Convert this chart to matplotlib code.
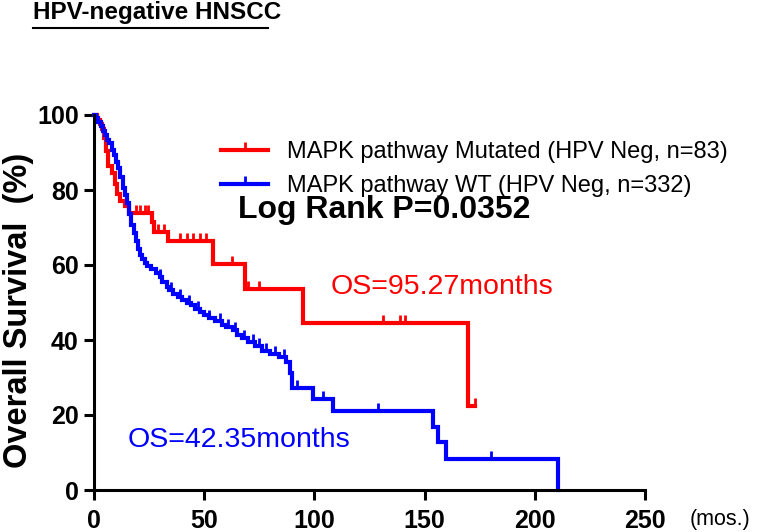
import numpy as np
import matplotlib
matplotlib.use("Agg")
import matplotlib.pyplot as plt
from matplotlib.path import Path
from matplotlib.lines import Line2D
from matplotlib import font_manager

# Kaplan-Meier steps: (time in months, survival % after the drop)
red_times = [0, 1.5, 2.5, 3.5, 4.5, 5.5, 6.5, 8, 9.5, 10.5, 12, 14, 16, 26.3, 27.2, 33.5, 54, 68.5, 95, 169.6, 172.8]
red_surv = [100, 98.8, 97.6, 96.4, 94.0, 90.5, 86.5, 84.5, 81.5, 79.0, 77.0, 75.8, 74.0, 71.5, 68.8, 66.4, 60.3, 53.6, 44.6, 22.4, 22.4]
red_censor = [19, 21, 23, 24.5, 29, 31.7, 39, 42, 45, 48, 51, 62.6, 70, 75, 131, 139, 141, 172.8]

blue_times = [0, 1, 2, 3, 4, 5, 6, 7, 8, 9, 10, 11, 12, 13, 14, 15, 16, 17, 18, 19, 20, 21, 22, 23, 24,
              26, 28, 30, 31, 33, 34, 36, 38, 40, 42, 44, 46, 48, 50, 52, 55, 58, 60, 63, 65, 67, 70,
              73, 76, 80, 84, 87, 89, 90, 99.5, 108.5, 153.7, 156, 159.6, 210.4]
blue_surv = [100, 99.1, 98.2, 97.0, 95.8, 94.6, 93.4, 92.5, 90.8, 89.4, 87.6, 85.8, 83.5, 80.5, 78.6, 76.5,
             73.5, 70.8, 68.6, 66.5, 64.3, 62.8, 61.5, 60.6, 59.8, 58.9, 57.8, 56.8, 55.6, 54.2, 53.3,
             52.3, 51.5, 50.6, 50.0, 49.4, 48.4, 47.5, 46.6, 46.0, 45.2, 44.0, 43.5, 42.8, 41.3, 40.6,
             39.4, 38.3, 37.0, 36.2, 35.4, 34.1, 31.2, 27.2, 24.3, 21.2, 16.8, 12.8, 8.3, 0]
blue_censor = [30, 35, 39, 43, 47, 52, 57, 61, 64, 68, 72, 75, 78, 82, 86, 92, 104, 128.8, 180]

red_label = "MAPK pathway Mutated (HPV Neg, n=83)"
blue_label = "MAPK pathway WT (HPV Neg, n=332)"
x_ticks = [0, 50, 100, 150, 200, 250]
y_ticks = [0, 20, 40, 60, 80, 100]

RED = "#ff0000"
BLUE = "#0000ff"

installed = {f.name for f in font_manager.fontManager.ttflist}
narrow = "Liberation Sans Narrow" if "Liberation Sans Narrow" in installed else "Liberation Sans"
plt.rcParams["font.family"] = ["Liberation Sans", "DejaVu Sans"]


def surv_at(times, surv, t):
    i = np.searchsorted(times, t, side="right") - 1
    return surv[i]


# upward censor tick
tick_marker = Path([(0, 0), (0, 1)], [Path.MOVETO, Path.LINETO])

fig = plt.figure(figsize=(7.72, 5.32), dpi=100)
ax = fig.add_axes([94 / 772, 42 / 532, 551 / 772, 375 / 532])

for times, surv, cens, col in [(red_times, red_surv, red_censor, RED),
                               (blue_times, blue_surv, blue_censor, BLUE)]:
    ax.step(times, surv, where="post", color=col, lw=3, clip_on=False, solid_joinstyle="miter")
    cy = [surv_at(times, surv, t) for t in cens]
    ax.plot(cens, cy, ls="none", marker=tick_marker, markersize=11, markeredgewidth=2,
            color=col, clip_on=False)

ax.set_xlim(0, 250)
ax.set_ylim(0, 100)
ax.set_xticks(x_ticks)
ax.set_yticks(y_ticks)
for s in ["top", "right"]:
    ax.spines[s].set_visible(False)
for s in ["left", "bottom"]:
    ax.spines[s].set_linewidth(2.2)
ax.tick_params(width=2.2, length=7, labelsize=18, pad=4)
ax.tick_params(axis="x", pad=7)
for lbl in ax.get_xticklabels() + ax.get_yticklabels():
    lbl.set_fontweight("bold")
ax.set_ylabel("Overall Survival  (%)", fontsize=23.5, fontweight="bold")
ax.yaxis.set_label_coords(-0.108, 0.48)

handles = [Line2D([], [], color=RED, lw=3, marker=tick_marker, markersize=11, markeredgewidth=2),
           Line2D([], [], color=BLUE, lw=3, marker=tick_marker, markersize=11, markeredgewidth=2)]
fig.legend(handles, [red_label, blue_label], loc="upper left", bbox_to_anchor=(200 / 772, 1 - 120 / 532),
           frameon=False, fontsize=17, handlelength=2.0, handletextpad=0.8, labelspacing=0.5)

fig.text(238 / 772, 1 - 210 / 532, "Log Rank P=0.0352", fontsize=23, fontweight="bold", va="center")
ax.text(107.5, 54, "OS=95.27months", color=RED, fontsize=20.5, va="center")
ax.text(15.4, 13.3, "OS=42.35months", color=BLUE, fontsize=20.5, va="center")
fig.text(690 / 772, 1 - 520 / 532, "(mos.)", fontsize=15.5, va="center")

fig.text(33 / 772, 1 - 13 / 532, "HPV-negative HNSCC", fontsize=17.5, fontweight="bold",
         family=[narrow, "DejaVu Sans"], va="center")
fig.add_artist(Line2D([33 / 772, 268 / 772], [1 - 28 / 532] * 2, color="black", lw=1.5))

fig.savefig("out.png", dpi=100)
